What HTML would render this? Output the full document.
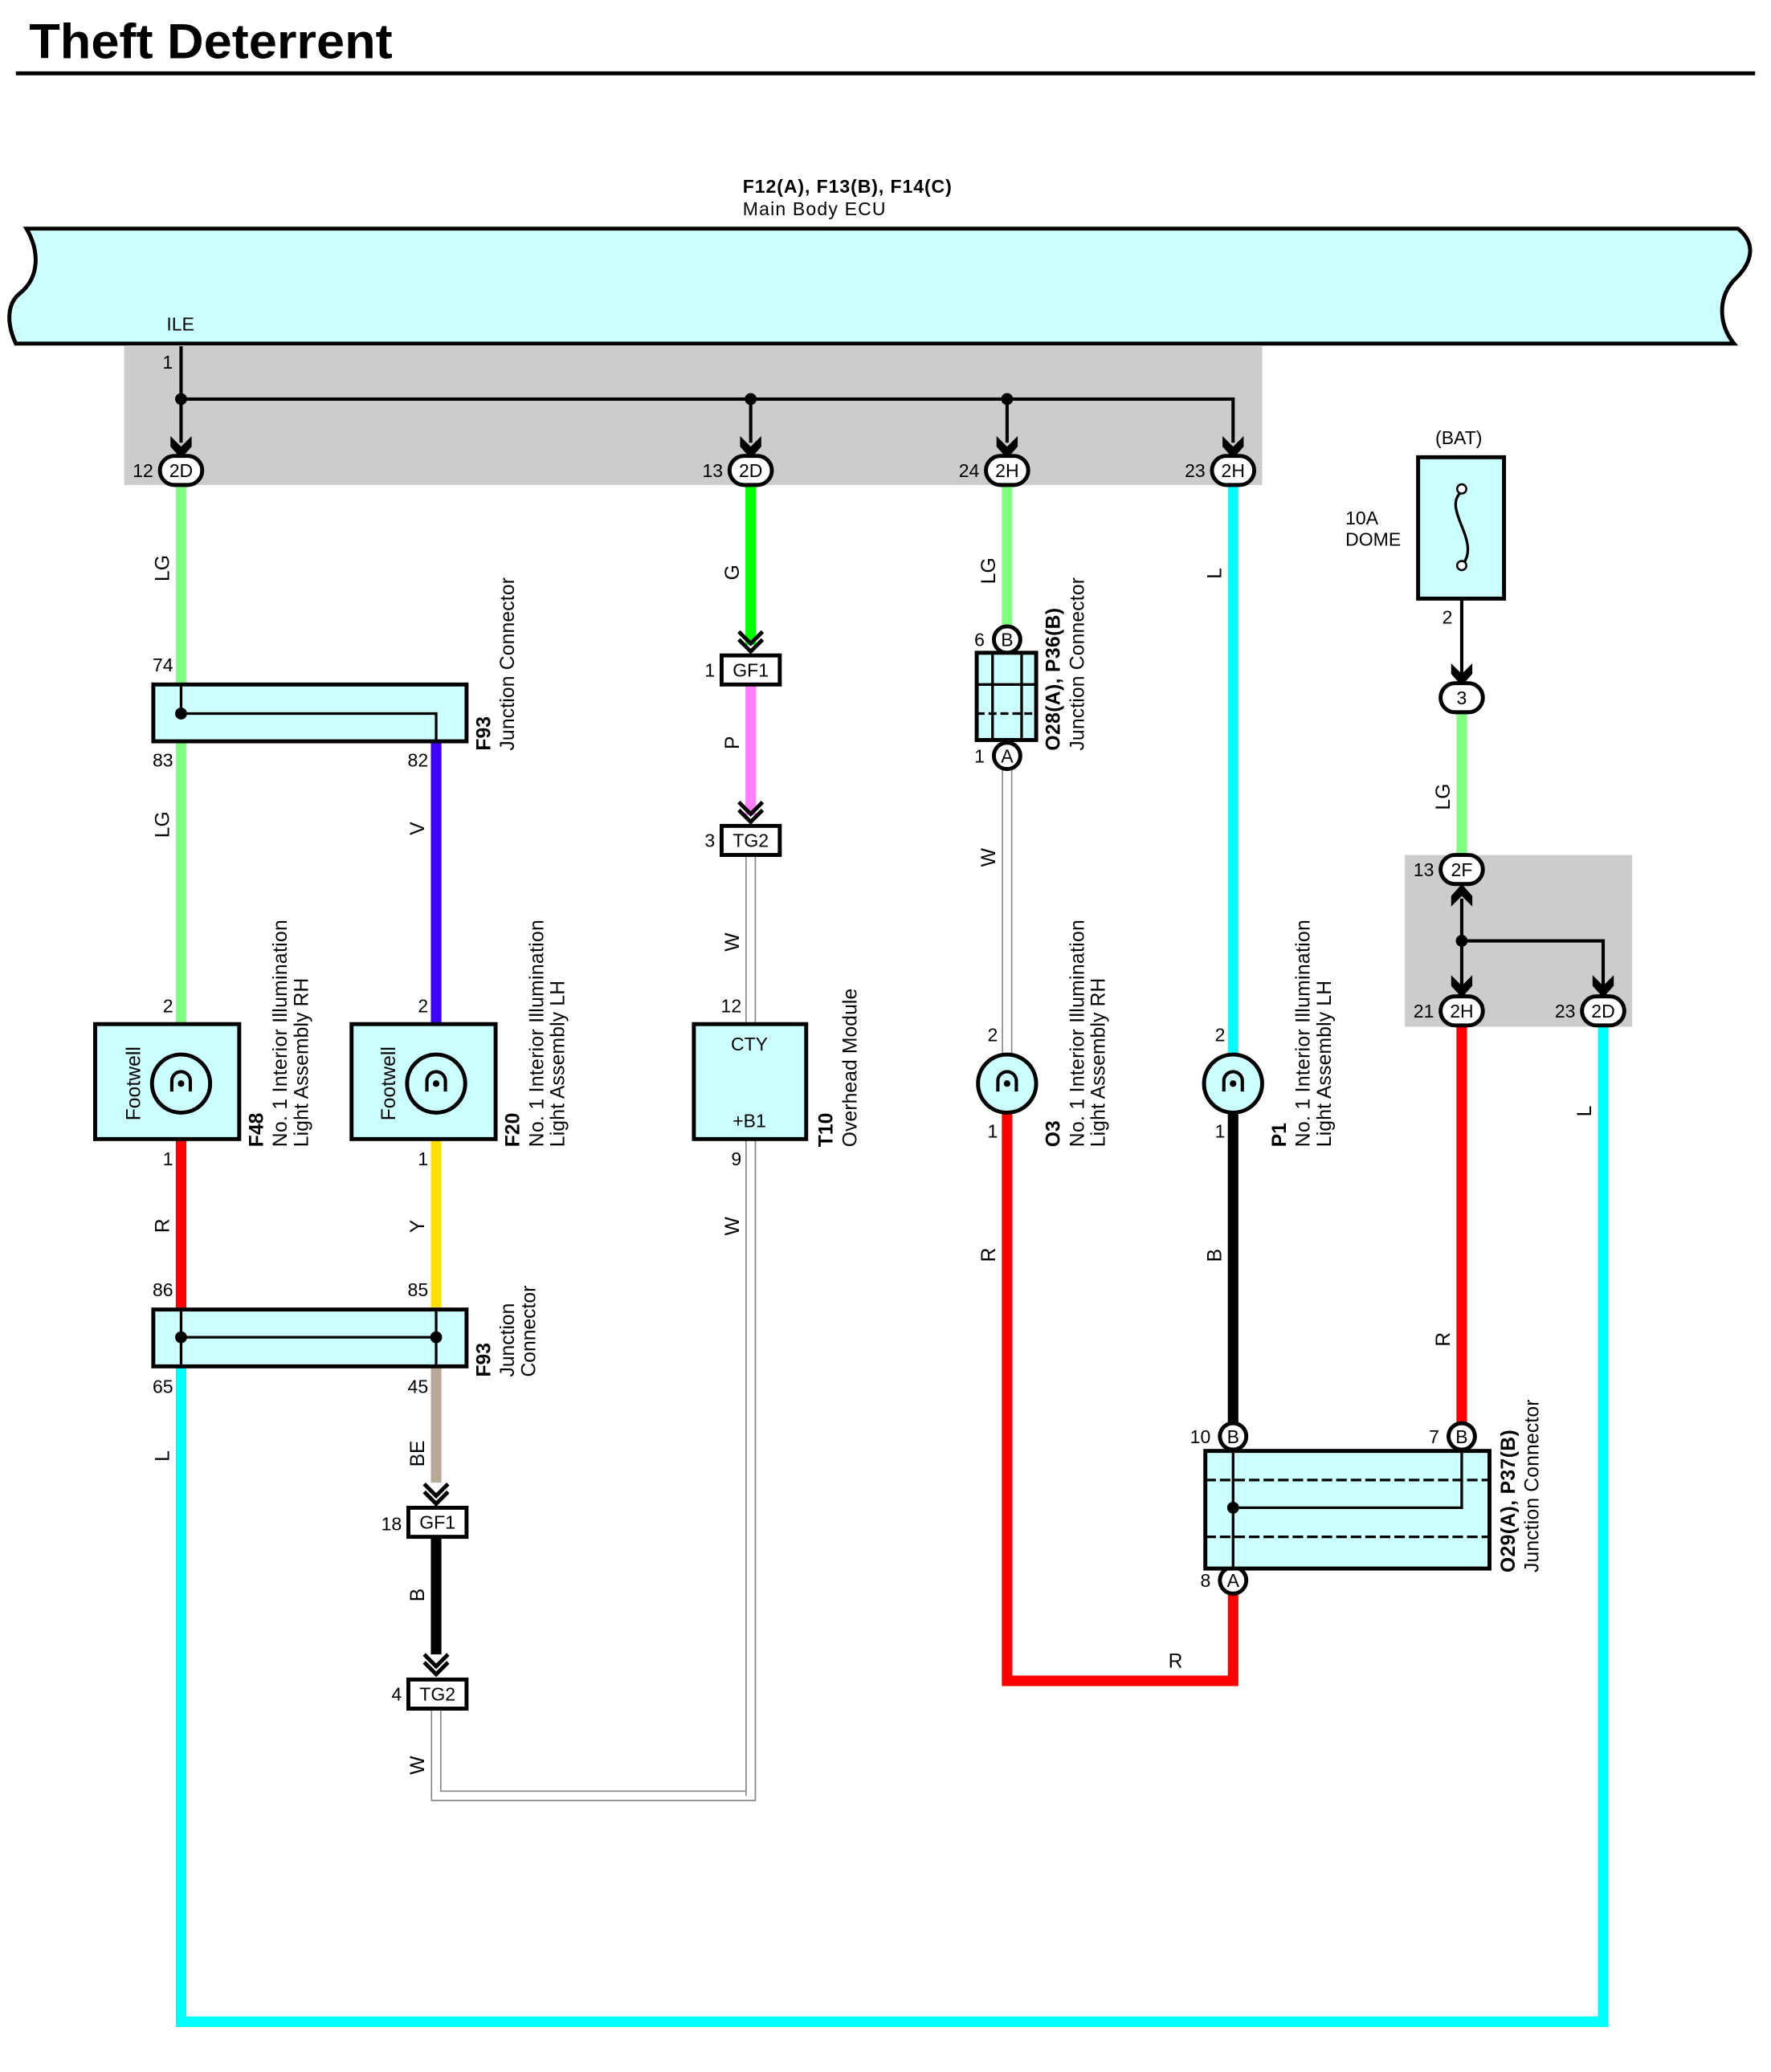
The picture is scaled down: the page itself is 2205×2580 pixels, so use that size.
<!DOCTYPE html>
<html><head><meta charset="utf-8"><style>
html,body{margin:0;padding:0;background:#fff}
svg{display:block}
text{font-family:"Liberation Sans",sans-serif;fill:#000}
</style></head><body>
<svg width="2205" height="2580" viewBox="0 0 1340 1568" preserveAspectRatio="none" xmlns="http://www.w3.org/2000/svg">
<defs>
<g id="arr"><path d="M-8,-10 L0,-2 L8,-10 L8,-2 L0,7 L-8,-2 Z" fill="#000"/></g>
<g id="chev"><path d="M-9,-12 L0,-3 L9,-12 M-9,-6 L0,3 L9,-6" stroke="#000" stroke-width="3" fill="none"/></g>
</defs>
<text x="22" y="44" font-size="37" font-weight="bold" textLength="275" lengthAdjust="spacingAndGlyphs">Theft Deterrent</text>
<rect x="12" y="54" width="1316" height="3" fill="#000"/>

<text x="562" y="146" font-size="14" font-weight="bold" textLength="158">F12(A), F13(B), F14(C)</text>
<text x="562" y="163" font-size="14" textLength="108">Main Body ECU</text>
<path d="M20,173 L1315,173 C1330,185 1325,200 1312,212 C1300,225 1300,245 1312,260 L12,260 C5,245 5,230 15,222 C30,210 30,190 20,173 Z" fill="#ccffff" stroke="#000" stroke-width="3"/>
<text x="126" y="250" font-size="14">ILE</text>

<rect x="94" y="262" width="861" height="105" fill="#cccccc"/>
<rect x="1063" y="647" width="172" height="130" fill="#cccccc"/>

<g fill="none" stroke-width="8" stroke-linecap="butt">
<path d="M137,367 V518" stroke="#80ff80"/>
<path d="M137,561 V775" stroke="#80ff80"/>
<path d="M137,862 V991" stroke="#ff0000"/>
<path d="M137,1034 V1530 H1213 V777" stroke="#00ffff"/>
<path d="M330,561 V775" stroke="#4000ff"/>
<path d="M330,862 V991" stroke="#ffe000"/>
<path d="M330,1034 V1122" stroke="#b8a898"/>
<path d="M330,1163 V1252" stroke="#000"/>
<path d="M568,367 V488" stroke="#00ff00"/>
<path d="M568,518 V617" stroke="#ff80ff"/>
<path d="M762,367 V475" stroke="#80ff80"/>
<path d="M762,842 V1272 H933 V1205" stroke="#ff0000"/>
<path d="M933,367 V798" stroke="#00ffff"/>
<path d="M933,842 V1078" stroke="#000"/>
<path d="M1106,540 V647" stroke="#80ff80"/>
<path d="M1106,777 V1078" stroke="#ff0000"/>
</g>
<g fill="none" stroke-linejoin="miter">
<path d="M330,1293 V1359 H568 V647" stroke="#888" stroke-width="8"/>
<path d="M330,1293 V1359 H568 V647" stroke="#fff" stroke-width="6"/>
<path d="M568,862 V1359" stroke="#888" stroke-width="8"/>
<path d="M568,862 V1359" stroke="#fff" stroke-width="6"/>
<path d="M762,582 V800" stroke="#888" stroke-width="8"/>
<path d="M762,582 V800" stroke="#fff" stroke-width="6"/>
</g>

<g stroke="#000" stroke-width="2.5" fill="none">
<path d="M137,262 V335 M137,302 H933 V335 M568,302 V335 M762,302 V335"/>
<path d="M1106,453 V510"/>
<path d="M1106,680 V755 M1106,712 H1213 V755"/>
</g>
<g fill="#000">
<circle cx="137" cy="302" r="4.5"/><circle cx="568" cy="302" r="4.5"/><circle cx="762" cy="302" r="4.5"/><circle cx="1106" cy="712" r="4.5"/>
</g>
<use href="#arr" x="137" y="340"/><use href="#arr" x="568" y="340"/><use href="#arr" x="762" y="340"/><use href="#arr" x="933" y="340"/>
<use href="#arr" x="1106" y="512"/><use href="#arr" x="1106" y="748"/><use href="#arr" x="1213" y="748"/>
<g transform="translate(1106,676) scale(1,-1)"><use href="#arr"/></g>
<use href="#chev" x="568" y="490"/><use href="#chev" x="568" y="619"/>
<use href="#chev" x="330" y="1135"/><use href="#chev" x="330" y="1264"/>
<text x="123" y="279" font-size="14">1</text>

<g stroke="#000" stroke-width="3" fill="#fff">
<rect x="121" y="345" width="32" height="22" rx="11"/>
<rect x="552" y="345" width="32" height="22" rx="11"/>
<rect x="746" y="345" width="32" height="22" rx="11"/>
<rect x="917" y="345" width="32" height="22" rx="11"/>
<rect x="1090" y="647" width="32" height="22" rx="11"/>
<rect x="1090" y="754" width="32" height="22" rx="11"/>
<rect x="1197" y="754" width="32" height="22" rx="11"/>
<rect x="1090" y="517" width="32" height="22" rx="11"/>
<circle cx="762" cy="484" r="10"/><circle cx="762" cy="572" r="10"/>
<circle cx="933" cy="1087" r="10"/><circle cx="933" cy="1196" r="10"/><circle cx="1106" cy="1087" r="10"/>
</g>
<g font-size="14" text-anchor="middle">
<text x="137" y="361">2D</text><text x="568" y="361">2D</text><text x="762" y="361">2H</text><text x="933" y="361">2H</text>
<text x="1106" y="663">2F</text><text x="1106" y="770">2H</text><text x="1213" y="770">2D</text><text x="1106" y="533">3</text>
<text x="762" y="489">B</text><text x="762" y="577">A</text><text x="933" y="1092">B</text><text x="933" y="1201">A</text><text x="1106" y="1092">B</text>
</g>
<g font-size="14" text-anchor="end">
<text x="116" y="361">12</text><text x="547" y="361">13</text><text x="741" y="361">24</text><text x="912" y="361">23</text>
<text x="1085" y="663">13</text><text x="1085" y="770">21</text><text x="1192" y="770">23</text>
<text x="1099" y="472">2</text>
<text x="745" y="489">6</text><text x="745" y="577">1</text>
<text x="916" y="1092">10</text><text x="916" y="1201">8</text><text x="1089" y="1092">7</text>
<text x="131" y="508">74</text><text x="131" y="580">83</text><text x="324" y="580">82</text>
<text x="131" y="766">2</text><text x="324" y="766">2</text><text x="131" y="882">1</text><text x="324" y="882">1</text>
<text x="131" y="981">86</text><text x="324" y="981">85</text><text x="131" y="1054">65</text><text x="324" y="1054">45</text>
<text x="304" y="1158">18</text><text x="304" y="1287">4</text>
<text x="541" y="512">1</text><text x="541" y="641">3</text>
<text x="561" y="766">12</text><text x="561" y="882">9</text>
<text x="755" y="788">2</text><text x="755" y="861">1</text>
<text x="927" y="788">2</text><text x="927" y="861">1</text>
</g>

<g stroke="#000" stroke-width="3" fill="#ccffff">
<rect x="116" y="518" width="237" height="43"/>
<rect x="116" y="991" width="237" height="43"/>
<rect x="72" y="775" width="109" height="87"/>
<rect x="266" y="775" width="109" height="87"/>
<rect x="525" y="775" width="85" height="87"/>
<rect x="739" y="494" width="45" height="66"/>
<rect x="912" y="1098" width="215" height="89"/>
<rect x="1073" y="346" width="65" height="107"/>
</g>
<g stroke="#000" stroke-width="2" fill="none">
<path d="M137,518 V540 H330 V561"/>
<path d="M137,991 V1034 M137,1012 H330 M330,991 V1034"/>
<path d="M751,494 V560 M773,494 V560 M739,518 H784" />
<path d="M739,540 H784" stroke-dasharray="6,3"/>
<path d="M933,1098 V1187 M933,1141 H1106 V1098"/>
<path d="M912,1120 H1127 M912,1163 H1127" stroke-dasharray="8,3"/>
<path d="M1106,372 C1090,385 1122,410 1106,428"/>
</g>
<g fill="#000"><circle cx="137" cy="540" r="4.5"/><circle cx="137" cy="1012" r="4.5"/><circle cx="330" cy="1012" r="4.5"/><circle cx="933" cy="1141" r="4.5"/></g>
<g stroke="#000" stroke-width="1.5" fill="#fff"><circle cx="1106" cy="370" r="3.5"/><circle cx="1106" cy="428" r="3.5"/></g>

<g stroke="#000" stroke-width="3" fill="#fff">
<rect x="546" y="496" width="44" height="22"/><rect x="546" y="625" width="44" height="22"/>
<rect x="309" y="1141" width="44" height="22"/><rect x="309" y="1271" width="44" height="22"/>
</g>
<g font-size="14" text-anchor="middle">
<text x="568" y="512">GF1</text><text x="568" y="641">TG2</text><text x="331" y="1157">GF1</text><text x="331" y="1287">TG2</text>
<text x="567" y="795">CTY</text><text x="567" y="853">+B1</text>
</g>

<g stroke="#000" stroke-width="3" fill="#ccffff">
<circle cx="137" cy="820" r="22"/><circle cx="330" cy="820" r="22"/>
<circle cx="762" cy="820" r="22"/><circle cx="933" cy="820" r="22"/>
</g>
<g stroke="#000" stroke-width="2.5" fill="none">
<path d="M130,826 V818 a7,7 0 0 1 14,0 V826"/><path d="M323,826 V818 a7,7 0 0 1 14,0 V826"/>
<path d="M755,826 V818 a7,7 0 0 1 14,0 V826"/><path d="M926,826 V818 a7,7 0 0 1 14,0 V826"/>
</g>
<g fill="#000"><circle cx="137" cy="820" r="2.5"/><circle cx="330" cy="820" r="2.5"/><circle cx="762" cy="820" r="2.5"/><circle cx="933" cy="820" r="2.5"/></g>

<g font-size="15">
<text transform="translate(128,440) rotate(-90)">LG</text>
<text transform="translate(128,634) rotate(-90)">LG</text>
<text transform="translate(128,933) rotate(-90)">R</text>
<text transform="translate(128,1106) rotate(-90)">L</text>
<text transform="translate(321,632) rotate(-90)">V</text>
<text transform="translate(321,933) rotate(-90)">Y</text>
<text transform="translate(321,1110) rotate(-90)">BE</text>
<text transform="translate(321,1212) rotate(-90)">B</text>
<text transform="translate(321,1343) rotate(-90)">W</text>
<text transform="translate(559,439) rotate(-90)">G</text>
<text transform="translate(559,567) rotate(-90)">P</text>
<text transform="translate(559,720) rotate(-90)">W</text>
<text transform="translate(559,935) rotate(-90)">W</text>
<text transform="translate(753,442) rotate(-90)">LG</text>
<text transform="translate(753,656) rotate(-90)">W</text>
<text transform="translate(753,955) rotate(-90)">R</text>
<text transform="translate(924,438) rotate(-90)">L</text>
<text transform="translate(924,955) rotate(-90)">B</text>
<text transform="translate(1097,613) rotate(-90)">LG</text>
<text transform="translate(1097,1019) rotate(-90)">R</text>
<text transform="translate(1204,845) rotate(-90)">L</text>
<text x="884" y="1262">R</text>
<text transform="translate(106,848) rotate(-90)" textLength="56">Footwell</text>
<text transform="translate(299,848) rotate(-90)" textLength="56">Footwell</text>

<text transform="translate(371,568) rotate(-90)" font-weight="bold">F93</text>
<text transform="translate(389,568) rotate(-90)" textLength="131">Junction Connector</text>
<text transform="translate(371,1042) rotate(-90)" font-weight="bold">F93</text>
<text transform="translate(389,1042) rotate(-90)">Junction</text>
<text transform="translate(405,1042) rotate(-90)">Connector</text>
<text transform="translate(199,868) rotate(-90)" font-weight="bold">F48</text>
<text transform="translate(217,868) rotate(-90)" textLength="172">No.  1 Interior Illumination</text>
<text transform="translate(233,868) rotate(-90)" textLength="128">Light Assembly RH</text>
<text transform="translate(393,868) rotate(-90)" font-weight="bold">F20</text>
<text transform="translate(411,868) rotate(-90)" textLength="172">No.  1 Interior Illumination</text>
<text transform="translate(427,868) rotate(-90)" textLength="126">Light Assembly LH</text>
<text transform="translate(630,868) rotate(-90)" font-weight="bold">T10</text>
<text transform="translate(648,868) rotate(-90)" textLength="120">Overhead Module</text>
<text transform="translate(802,568) rotate(-90)" font-weight="bold" textLength="108">O28(A), P36(B)</text>
<text transform="translate(820,568) rotate(-90)" textLength="131">Junction Connector</text>
<text transform="translate(802,868) rotate(-90)" font-weight="bold">O3</text>
<text transform="translate(820,868) rotate(-90)" textLength="172">No.  1 Interior Illumination</text>
<text transform="translate(836,868) rotate(-90)" textLength="128">Light Assembly RH</text>
<text transform="translate(973,868) rotate(-90)" font-weight="bold">P1</text>
<text transform="translate(991,868) rotate(-90)" textLength="172">No.  1 Interior Illumination</text>
<text transform="translate(1007,868) rotate(-90)" textLength="126">Light Assembly LH</text>
<text transform="translate(1146,1190) rotate(-90)" font-weight="bold" textLength="108">O29(A), P37(B)</text>
<text transform="translate(1164,1190) rotate(-90)" textLength="131">Junction Connector</text>
<text x="1086" y="336" font-size="14">(BAT)</text>
<text x="1018" y="397" font-size="14">10A</text>
<text x="1018" y="413" font-size="14">DOME</text>
</g>
</svg>
</body></html>
